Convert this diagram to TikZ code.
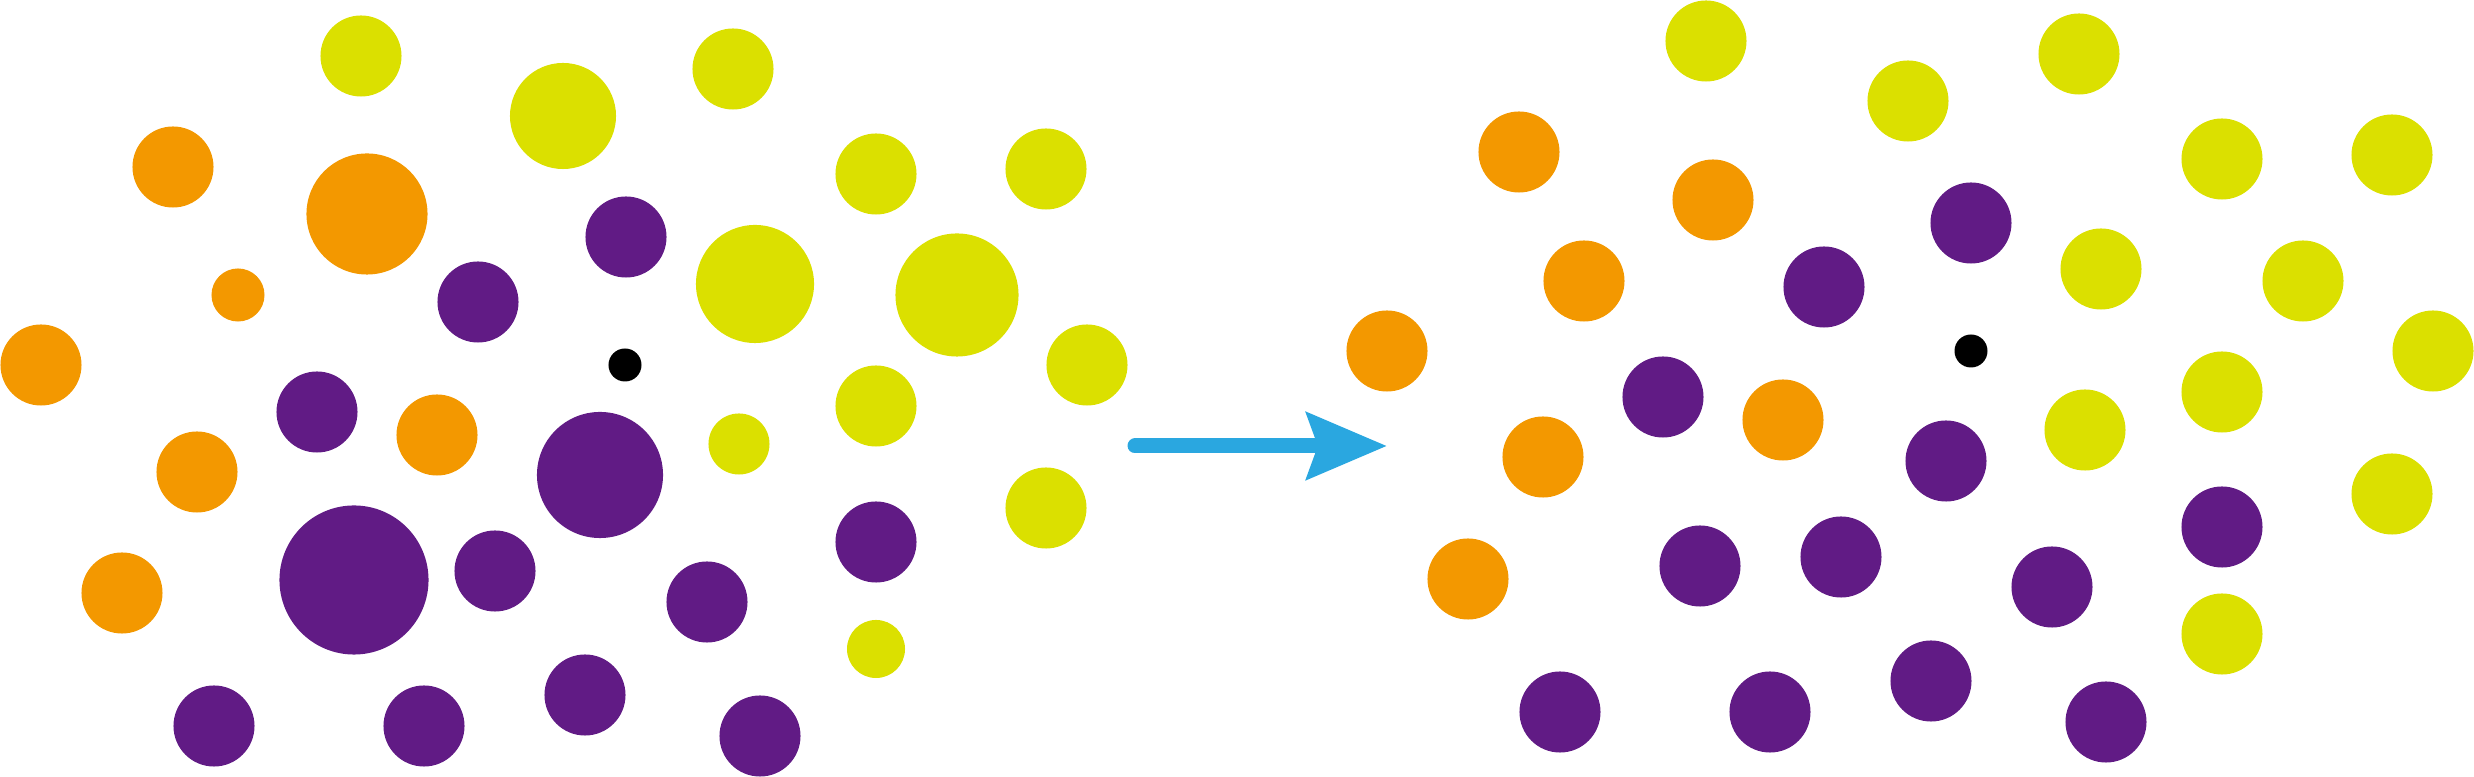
\documentclass[tikz,border=0pt]{standalone}
\usepackage{tikz}
\usetikzlibrary{arrows.meta}
\definecolor{dotylw}{HTML}{DBE000}
\definecolor{dotorg}{HTML}{F39800}
\definecolor{dotprp}{HTML}{611B85}
\definecolor{arrblue}{HTML}{2AA7E0}
\tikzset{
  dot/.style     = {circle,inner sep=0pt,outer sep=0pt,draw=none},
  ylw/.style     = {dot,fill=dotylw},
  org/.style     = {dot,fill=dotorg},
  prp/.style     = {dot,fill=dotprp},
  ctr/.style     = {dot,fill=black,minimum size=3.3mm},
  flowarr/.style = {-{Stealth[length=8mm,width=6.6mm,inset=1.1mm]},
                    line width=1.5mm,line cap=round,draw=arrblue},
}

\begin{document}
\begin{tikzpicture}[x=0.01cm,y=-0.01cm]
  \useasboundingbox (0,0) rectangle (2474,777);

  % before: scattered, mixed sizes
  \foreach \x/\y/\d [count=\i] in {361/56/8.1, 563/116/10.6, 733/69/8.1,
      755/284/11.8, 876/174/8.1, 1046/169/8.1, 957/295/12.3, 1087/365/8.1,
      876/406/8.1, 739/444/6.1, 1046/508/8.1, 876/649/5.8}
    \node[ylw,minimum size=\d mm] (ly\i) at (\x,\y) {};
  \foreach \x/\y/\d [count=\i] in {173/167/8.1, 367/214/12.1, 238/295/5.3,
      41/365/8.1, 437/435/8.1, 197/472/8.1, 122/593/8.1}
    \node[org,minimum size=\d mm] (lo\i) at (\x,\y) {};
  \foreach \x/\y/\d [count=\i] in {626/237/8.1, 478/302/8.1, 317/412/8.1,
      600/475/12.6, 354/580/14.9, 495/571/8.1, 707/602/8.1, 876/542/8.1,
      214/726/8.1, 424/726/8.1, 585/695/8.1, 760/736/8.1}
    \node[prp,minimum size=\d mm] (lp\i) at (\x,\y) {};
  \node[ctr] (lc) at (625,365) {};

  % after: sorted, one size
  \foreach \x/\y [count=\i] in {1706/41, 1908/101, 2079/54, 2222/159,
      2392/155, 2101/269, 2303/281, 2433/351, 2222/392, 2085/430,
      2392/494, 2222/634}
    \node[ylw,minimum size=8.1mm] (ry\i) at (\x,\y) {};
  \foreach \x/\y [count=\i] in {1519/152, 1713/200, 1584/281, 1387/351,
      1543/457, 1468/579, 1783/420}
    \node[org,minimum size=8.1mm] (ro\i) at (\x,\y) {};
  \foreach \x/\y [count=\i] in {1971/223, 1824/287, 1663/397, 1700/566,
      1946/461, 1841/557, 2222/527, 2052/587, 1931/681, 1560/712,
      1770/712, 2106/722}
    \node[prp,minimum size=8.1mm] (rp\i) at (\x,\y) {};
  \node[ctr] (rc) at (1971,351) {};

  \coordinate (arrfrom) at (1135,446);
  \coordinate (arrto) at (1387,446);
  \draw[flowarr] (arrfrom) -- (arrto);
\end{tikzpicture}
\end{document}
